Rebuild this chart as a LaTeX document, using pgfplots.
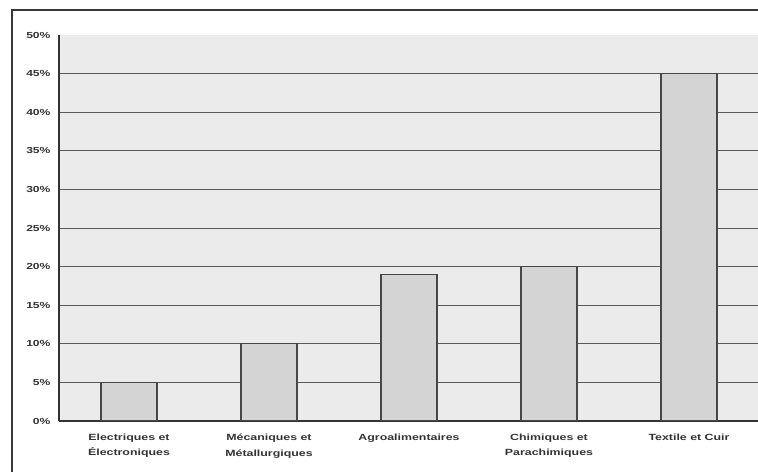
\documentclass[border=0pt]{standalone}
\usepackage{pgfplots}
\pgfplotsset{compat=1.18}
\usepackage{fontspec}
\newfontfamily\lblfont[FakeStretch=1.38]{Liberation Sans}
\begin{document}
\begin{tikzpicture}
% page frame
\useasboundingbox (-59bp,-51bp) rectangle (699bp,421bp);
\clip (-59bp,-51bp) rectangle (699bp,421bp);
\draw[line width=1.8bp, black!78] (-47bp,411bp) rectangle (780bp,-80bp);
\begin{axis}[
  at={(0,0)}, anchor=south west,
  scale only axis, width=700bp, height=386bp,
  xmin=-0.5, xmax=4.5, ymin=0, ymax=50,
  axis x line*=bottom, axis y line*=left,
  axis line style={black!80, line width=1.1bp},
  axis background/.style={fill=black!8},
  ytick={0,5,...,45},
  extra y ticks={50},
  extra y tick style={grid=none},
  yticklabel={\pgfmathprintnumber{\tick}\%},
  /pgf/number format/assume math mode=true,
  ymajorgrids,
  grid style={black!65, line width=0.7bp},
  major tick length=0pt,
  xtick=data,
  xticklabels={{Electriques et\\Électroniques},{Mécaniques et\\Métallurgiques},{Agroalimentaires},{Chimiques et\\Parachimiques},{Textile et Cuir}},
  xticklabel style={font=\lblfont\bfseries\fontsize{9}{16}\selectfont, align=center, text=black!80, yshift=-9bp},
  yticklabel style={font=\lblfont\bfseries\fontsize{8.8}{10}\selectfont, text=black!80, xshift=-5bp},
  ybar, bar width=56bp,
]
\addplot[fill=black!17, draw=black!72, line width=1.3bp] coordinates {(0,5) (1,10) (2,19) (3,20) (4,45)};
\end{axis}
\end{tikzpicture}
\end{document}
